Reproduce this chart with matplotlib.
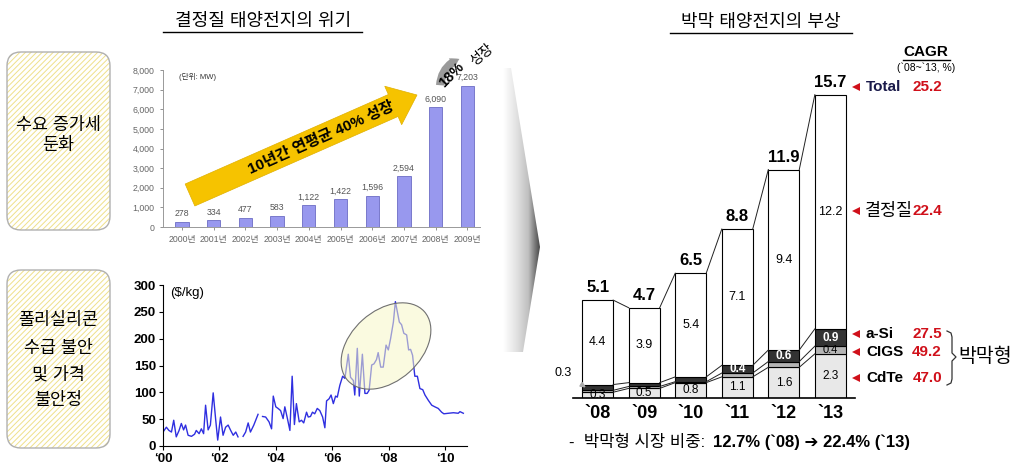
import numpy as np
import matplotlib
matplotlib.use('Agg')
import matplotlib.pyplot as plt
from matplotlib.patches import FancyBboxPatch, FancyArrow, Ellipse, Polygon, FancyArrowPatch
from matplotlib.colors import LinearSegmentedColormap

plt.rcParams['font.family'] = ['Liberation Sans', 'Noto Sans CJK KR', 'DejaVu Sans']
plt.rcParams['hatch.linewidth'] = 0.7

# --- data ---------------------------------------------------------------
# demand (MW), 2000-2009
demand_years = ['2000년', '2001년', '2002년', '2003년', '2004년',
                '2005년', '2006년', '2007년', '2008년', '2009년']
demand_mw = [278, 334, 477, 583, 1122, 1422, 1596, 2594, 6090, 7203]

# polysilicon spot price ($/kg), NaN = gap in the line
price_year = [2000.00, 2000.12, 2000.21, 2000.30, 2000.38, 2000.47, 2000.57, 2000.65,
              2000.73, 2000.80, 2000.89, 2001.01, 2001.12, 2001.18, 2001.28, 2001.36,
              2001.44, 2001.51, 2001.60, 2001.68, 2001.78, 2001.87, 2001.94, 2002.04,
              2002.13, 2002.22, 2002.31, 2002.40, 2002.49, 2002.58, 2002.66, 2002.75,
              2002.84, 2002.93, 2003.02, 2003.10, 2003.22, 2003.37, 2003.45,
              2003.53, 2003.64, 2003.76, 2003.85, 2003.91, 2004.00, 2004.08, 2004.17,
              2004.26, 2004.32, 2004.40, 2004.50, 2004.58, 2004.66, 2004.73, 2004.83,
              2004.91, 2004.99, 2005.09, 2005.15, 2005.23, 2005.30, 2005.38, 2005.47,
              2005.56, 2005.66, 2005.74, 2005.80, 2005.89, 2005.96, 2006.04, 2006.12,
              2006.18, 2006.27, 2006.37, 2006.45, 2006.57, 2006.65, 2006.75, 2006.80,
              2006.89, 2006.96, 2007.07, 2007.16, 2007.24, 2007.31, 2007.40, 2007.48,
              2007.57, 2007.63, 2007.72, 2007.81, 2007.91, 2007.99, 2008.07, 2008.17,
              2008.24, 2008.31, 2008.38, 2008.46, 2008.54, 2008.64, 2008.71, 2008.78,
              2008.85, 2008.93, 2009.02, 2009.11, 2009.21, 2009.29, 2009.41, 2009.53,
              2009.64, 2009.76, 2009.88, 2009.96, 2010.12, 2010.30, 2010.47, 2010.53,
              2010.65]
price_usd = [26, 35, 29, 26, 48, 17, 29, 42,
             30, 39, 20, 18, 22, 29, 23, 32,
             23, 76, 30, 39, 99, 48, 11, 54,
             20, 35, 39, 29, 20, 26, 17, np.nan,
             18, 26, 43, 26, 39, 59, np.nan,
             55, 54, 45, 32, 93, 73, 70, 66,
             51, 73, 54, 29, 130, 40, 79, 45,
             48, 43, 63, 54, 55, 63, 60, 70,
             66, 54, 34, 84, 88, 95, 79, 93,
             91, 113, 130, 126, 171, 128, 122, 95,
             182, 93, 171, 98, 98, 104, 151, 153,
             161, 174, 147, 147, 188, 179, 200, 231,
             269, 250, 231, 226, 210, 207, 179, 180,
             169, 130, 130, 107, 105, 95, 85, 76,
             73, 70, 63, 60, 61, 62, 61, 64,
             61]
price_ticks = ['‘00', '‘02', '‘04', '‘06', '‘08', '‘10']

# thin-film market (GW)
tf_years = ['`08', '`09', '`10', '`11', '`12', '`13']
cdte = [0.3, 0.5, 0.8, 1.1, 1.6, 2.3]
cigs = [0.1, 0.1, 0.05, 0.2, 0.3, 0.4]
asi = [0.3, 0.2, 0.25, 0.4, 0.6, 0.9]
crystal = [4.4, 3.9, 5.4, 7.1, 9.4, 12.2]
total = [5.1, 4.7, 6.5, 8.8, 11.9, 15.7]
cagr_total, cagr_crystal = '25.2', '22.4'
cagr_asi, cagr_cigs, cagr_cdte = '27.5', '49.2', '47.0'

W, H = 1020, 476
fig = plt.figure(figsize=(W / 100, H / 100), dpi=100)


def px_axes(l, t, r, b, z=1):
    a = fig.add_axes([l / W, 1 - b / H, (r - l) / W, (b - t) / H], zorder=z)
    a.patch.set_alpha(0)
    return a


# --- demand bar chart ---------------------------------------------------
ax1 = px_axes(163, 70, 480, 227)
x1 = np.arange(len(demand_mw))
ax1.bar(x1, demand_mw, width=0.42, color='#9898ee', edgecolor='#6c6cc4', lw=0.6)
for xi, v in zip(x1, demand_mw):
    ax1.text(xi, v + 180, f'{v:,}', ha='center', va='bottom', fontsize=6.3, color='#555555')
ax1.set_xlim(-0.6, 9.4)
ax1.set_ylim(0, 8000)
ax1.set_yticks(range(0, 8001, 1000))
ax1.set_yticklabels([f'{v:,}' for v in range(0, 8001, 1000)])
ax1.set_xticks(x1)
ax1.set_xticklabels(demand_years)
ax1.tick_params(labelsize=6.3, colors='#666666', length=2, width=0.5, pad=4)
for s in ['top', 'right']:
    ax1.spines[s].set_visible(False)
for s in ['left', 'bottom']:
    ax1.spines[s].set_color('#999999')
    ax1.spines[s].set_linewidth(0.7)
ax1.text(0.05, 0.98, '(단위: MW)', transform=ax1.transAxes, fontsize=5.5,
         va='top', color='#333333')

# --- polysilicon price line ---------------------------------------------
ax2 = px_axes(163, 285, 467, 446)
ax2.plot(price_year, price_usd, color='#2f2fe0', lw=1.0)
ax2.set_xlim(2000, 2010.78)
ax2.set_ylim(0, 300)
ax2.set_xticks(range(2000, 2011, 2))
ax2.set_xticklabels(price_ticks)
ax2.set_yticks(range(0, 301, 50))
ax2.tick_params(labelsize=9.5, length=3, width=0.8, pad=2)
for lab in ax2.get_xticklabels() + ax2.get_yticklabels():
    lab.set_fontweight('bold')
for s in ['top', 'right']:
    ax2.spines[s].set_visible(False)
ax2.text(0.025, 0.985, '($/kg)', transform=ax2.transAxes, fontsize=9.5, va='top')

# --- thin-film stacked bars ---------------------------------------------
ax3 = px_axes(573, 71.6, 855, 398)
x3 = np.arange(len(tf_years))
bw = 0.665
layers = [(cdte, '#e8e8e8'), (cigs, '#b5b5b5'), (asi, '#333333'), (crystal, 'white')]
bottom = np.zeros(len(x3))
tops = []
for vals, col in layers:
    ax3.bar(x3, vals, bw, bottom=bottom, color=col, edgecolor='black', lw=0.8)
    bottom = bottom + np.array(vals)
    tops.append(bottom.copy())
# connector lines between neighbouring bars
for top in tops:
    for i in range(len(x3) - 1):
        ax3.plot([x3[i] + bw / 2, x3[i + 1] - bw / 2], [top[i], top[i + 1]],
                 color='#222222', lw=0.7)
cum1 = np.array(cdte)
cum2 = cum1 + np.array(cigs)
cum3 = cum2 + np.array(asi)
for i in x3:
    ax3.text(i, cdte[i] / 2, f'{cdte[i]}', ha='center', va='center', fontsize=8.5)
    if cigs[i] >= 0.4:
        ax3.text(i, cum1[i] + cigs[i] / 2, f'{cigs[i]}', ha='center', va='center', fontsize=8)
    if asi[i] >= 0.4:
        ax3.text(i, cum2[i] + asi[i] / 2, f'{asi[i]}', ha='center', va='center',
                 fontsize=8.5, color='white', fontweight='bold')
    ax3.text(i, cum3[i] + crystal[i] / 2, f'{crystal[i]}', ha='center', va='center', fontsize=9)
    ax3.text(i, tops[-1][i] + 0.25, f'{total[i]}', ha='center', va='bottom',
             fontsize=12, fontweight='bold')
ax3.annotate(f'{asi[0]}', xy=(x3[0] - 0.25, cum2[0] + asi[0] / 2), xytext=(-0.75, 1.3),
             fontsize=9, ha='center', va='center', annotation_clip=False,
             arrowprops=dict(arrowstyle='-|>', color='#aaaaaa', lw=1.2,
                             shrinkA=6, shrinkB=0, mutation_scale=7))
ax3.set_xlim(-0.53, 5.53)
ax3.set_ylim(0, 17)
ax3.set_xticks(x3)
ax3.set_xticklabels(tf_years)
ax3.tick_params(length=0, labelsize=13, pad=5)
for lab in ax3.get_xticklabels():
    lab.set_fontweight('bold')
ax3.set_yticks([])
for s in ['top', 'right', 'left']:
    ax3.spines[s].set_visible(False)
ax3.spines['bottom'].set_linewidth(1.2)

# --- overlay for decorations (pixel coordinates) ------------------------
ov = fig.add_axes([0, 0, 1, 1], zorder=5)
ov.set_xlim(0, W)
ov.set_ylim(H, 0)
ov.axis('off')
ov.patch.set_alpha(0)

# titles
ov.text(263, 21, '결정질 태양전지의 위기', ha='center', va='center', fontsize=13)
ov.plot([163, 362], [32, 32], color='black', lw=1)
ov.text(761, 22, '박막 태양전지의 부상', ha='center', va='center', fontsize=13)
ov.plot([670, 852], [33, 33], color='black', lw=1)

# left hatched boxes
for (l, t, w, h) in [(7, 52, 103, 178), (7, 270, 103, 178)]:
    ov.add_patch(FancyBboxPatch((l, t), w, h, boxstyle='round,pad=0,rounding_size=14',
                                facecolor='white', edgecolor='#efe08a', hatch='//////', lw=0))
    ov.add_patch(FancyBboxPatch((l, t), w, h, boxstyle='round,pad=0,rounding_size=14',
                                fill=False, edgecolor='#b0b0b0', lw=1))
for txt, y in [('수요 증가세', 125), ('둔화', 145)]:
    ov.text(58, y, txt, ha='center', va='center', fontsize=12.5)
for txt, y in [('폴리실리콘', 320), ('수급 불안', 348), ('및 가격', 374), ('불안정', 400)]:
    ov.text(58, y, txt, ha='center', va='center', fontsize=12.5)

# yellow growth arrow
ov.add_patch(FancyArrow(190, 195, 227, -100, width=24, head_width=42, head_length=26,
                        length_includes_head=True, facecolor='#f6c300', edgecolor='#e0b000', lw=0.5))
ov.text(321, 138, '10년간 연평균 40% 성장', ha='center', va='center', rotation=24,
        rotation_mode='anchor', fontsize=11, fontweight='bold')

# 18% growth marker
ov.add_patch(FancyArrowPatch((440, 88), (462, 58), connectionstyle='arc3,rad=-0.35',
                             arrowstyle='simple,head_width=8,head_length=6,tail_width=6',
                             color='#9a9a9a', mutation_scale=1, lw=0))
ov.text(452, 75, '18%', ha='center', va='center', rotation=45, fontsize=10.5, fontweight='bold')
ov.text(482, 55, '성장', ha='center', va='center', rotation=40, fontsize=10)

# highlight ellipse on price line
ov.add_patch(Ellipse((386, 346), 103, 70, angle=-42, facecolor='#f7f7c8', alpha=0.55,
                     edgecolor='none'))
ov.add_patch(Ellipse((386, 346), 103, 70, angle=-42, fill=False, edgecolor='#707070', lw=0.8))

# shaded chevron
cmap = LinearSegmentedColormap.from_list('chev', ['white', '#e4e4e4', '#c0c0c0', '#404040'])
grad = np.linspace(0, 1, 64).reshape(1, -1)
im = ov.imshow(grad, extent=(503, 541, 352, 68), cmap=cmap, aspect='auto', zorder=1)
chev = Polygon([(503, 68), (511, 68), (540, 247), (523, 352), (503, 352)], closed=True,
               transform=ov.transData, facecolor='none', edgecolor='none')
ov.add_patch(chev)
im.set_clip_path(chev)
ov.set_xlim(0, W)
ov.set_ylim(H, 0)

# CAGR column
ov.text(926, 52, 'CAGR', ha='center', va='center', fontsize=11, fontweight='bold')
ov.plot([903, 950], [60, 60], color='black', lw=1)
ov.text(926, 68, '(`08~`13, %)', ha='center', va='center', fontsize=7.5)

red = '#d0101a'
tri_x = 856
rows = [(87, 'Total', cagr_total, '#1a1a4a'),
        (334, 'a-Si', cagr_asi, 'black'),
        (352, 'CIGS', cagr_cigs, 'black'),
        (378, 'CdTe', cagr_cdte, 'black')]
for y, name, val, col in rows:
    ov.plot(tri_x, y, marker='<', color=red, ms=6, mew=0)
    ov.text(866, y, name, ha='left', va='center', fontsize=11, fontweight='bold', color=col)
    ov.text(942, y, val, ha='right', va='center', fontsize=11, fontweight='bold', color=red)
ov.plot(tri_x, 211, marker='<', color=red, ms=6, mew=0)
ov.text(865, 211, '결정질', ha='left', va='center', fontsize=12.5)
ov.text(942, 211, cagr_crystal, ha='right', va='center', fontsize=11, fontweight='bold', color=red)

# brace for thin-film group
bx = [947, 951, 952, 952, 956, 952, 952, 951, 947]
by = [331, 333, 337, 353, 357, 361, 379, 383, 385]
ov.plot(bx, by, color='#333333', lw=0.9)
ov.text(958, 357, '박막형', ha='left', va='center', fontsize=14)

# bottom note
ov.text(569, 442, '-  박막형 시장 비중:', ha='left', va='center', fontsize=12)
ov.text(713, 442, '12.7% (`08) ➔ 22.4% (`13)', ha='left', va='center', fontsize=12,
        fontweight='bold', family=['Liberation Sans', 'DejaVu Sans'])

fig.savefig('out.png', dpi=100, facecolor='white')
